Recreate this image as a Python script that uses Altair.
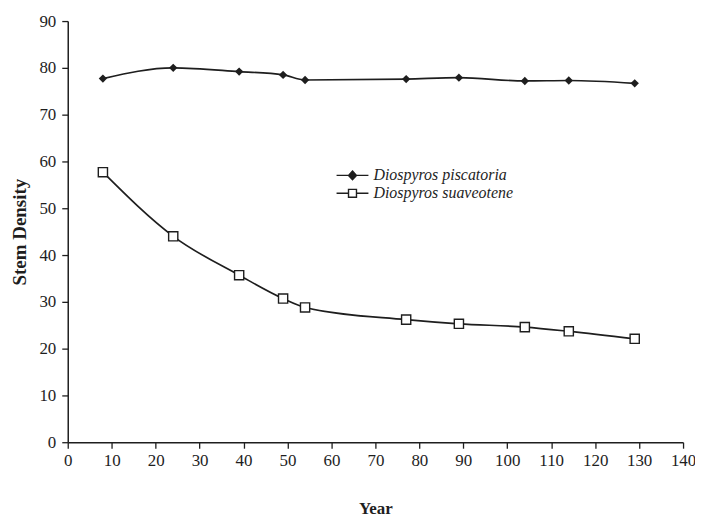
import altair as alt
import pandas as pd

years = [8, 24, 39, 49, 54, 77, 89, 104, 114, 129]
piscatoria = [77.7, 80.0, 79.2, 78.5, 77.4, 77.6, 77.9, 77.2, 77.3, 76.7]
suaveotene = [57.7, 44.0, 35.7, 30.7, 28.8, 26.2, 25.3, 24.6, 23.7, 22.1]
names = ["Diospyros piscatoria", "Diospyros suaveotene"]
x_ticks = list(range(0, 141, 10))
y_ticks = list(range(0, 91, 10))

df = pd.DataFrame({
    "year": years * 2,
    "density": piscatoria + suaveotene,
    "series": [names[0]] * len(years) + [names[1]] * len(years),
})

FONT = "Liberation Serif"
INK = "#1e1e1e"

x = alt.X("year:Q", scale=alt.Scale(domain=[0, 140], nice=False, zero=False),
          axis=alt.Axis(values=x_ticks, title="Year", grid=False, tickSize=6,
                        labelPadding=4, titlePadding=33, labelFlush=False,
                        titleFontSize=17))
y = alt.Y("density:Q", scale=alt.Scale(domain=[0, 90], nice=False),
          axis=alt.Axis(values=y_ticks, title="Stem Density", grid=False, tickSize=6,
                        labelPadding=6, titlePadding=9, titleFontSize=19))

base = alt.Chart(df)

lines = base.mark_line(interpolate="monotone", color=INK, strokeWidth=1.7).encode(
    x=x, y=y, detail="series:N")

diamonds = base.transform_filter(alt.datum.series == names[0]).mark_point(
    shape="diamond", filled=True, color=INK, size=70, opacity=1).encode(x=x, y=y)

squares = base.transform_filter(alt.datum.series == names[1]).mark_point(
    shape="square", filled=False, fill="white", stroke=INK, strokeWidth=1.4,
    size=85, opacity=1).encode(x=x, y=y)

path_pis = "M-2,0H2M0,-0.55L0.5,0L0,0.55L-0.5,0Z"
path_sua = "M-2,0H-0.5M0.5,0H2M-0.5,-0.5H0.5V0.5H-0.5Z"

leg = alt.Legend(title=None, orient="none", legendX=277, legendY=146,
                 symbolSize=256, labelOffset=12, rowPadding=1,
                 labelFont=FONT, labelFontStyle="italic",
                 labelFontSize=16, labelColor=INK,
                 symbolStrokeWidth=1.4, symbolOpacity=1)

legend_layer = base.transform_filter(alt.datum.year < 0).mark_point(
    strokeWidth=1.4, opacity=1).encode(
    x=x, y=y,
    shape=alt.Shape("series:N", scale=alt.Scale(domain=names, range=[path_pis, path_sua]),
                    legend=leg),
    fill=alt.Fill("series:N", scale=alt.Scale(domain=names, range=[INK, "white"]),
                  legend=leg),
    stroke=alt.Stroke("series:N", scale=alt.Scale(domain=names, range=[INK, INK]),
                      legend=leg),
)

chart = alt.layer(lines, diamonds, squares, legend_layer).properties(
    width=618, height=423,
    autosize="none",
    padding={"left": 60, "top": 12, "right": 12, "bottom": 78},
    background="white",
).configure_view(stroke=None).configure_axis(
    domainColor=INK, domainWidth=1.5, tickColor=INK, tickWidth=1.3,
    labelFont=FONT, labelFontSize=17, labelColor=INK,
    titleFont=FONT, titleFontWeight="bold", titleColor=INK,
)

chart.save("out.html", embed_options={"renderer": "svg", "actions": False})
